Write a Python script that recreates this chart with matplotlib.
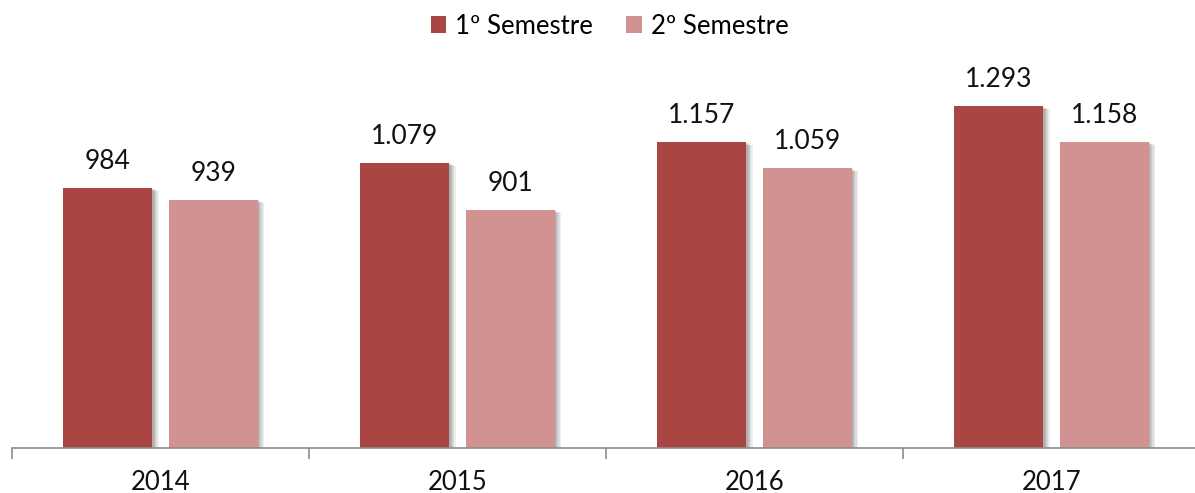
import matplotlib
matplotlib.use("Agg")
import matplotlib.pyplot as plt
import matplotlib.patheffects as pe
import numpy as np

years = ["2014", "2015", "2016", "2017"]
sem1 = [984, 1079, 1157, 1293]
sem2 = [939, 901, 1059, 1158]
labels1 = ["984", "1.079", "1.157", "1.293"]
labels2 = ["939", "901", "1.059", "1.158"]
series_names = ["1º Semestre", "2º Semestre"]

c1 = "#A94644"
c2 = "#D29291"

plt.rcParams['font.family'] = ['Lato', 'DejaVu Sans']

fig = plt.figure(figsize=(11.95, 4.93), dpi=100)
ax = fig.add_axes([12/1195, 45/493, 1188/1195, 370/493])

x = np.arange(len(years))
w = 0.30
off = 0.177

shadow = [pe.SimplePatchShadow(offset=(k*0.9, -k*0.45), shadow_rgbFace="#000000", alpha=0.07) for k in range(1, 6)] + [pe.Normal()]

b1 = ax.bar(x - off, sem1, w, color=c1, label=series_names[0], zorder=3)
b2 = ax.bar(x + off, sem2, w, color=c2, label=series_names[1], zorder=3)
for b in list(b1) + list(b2):
    b.set_path_effects(shadow)

for xi, v, t in zip(x - off, sem1, labels1):
    ax.annotate(t, (xi, v), xytext=(0, 10), textcoords="offset points",
                ha="center", va="bottom", fontsize=19, color="#111111")
for xi, v, t in zip(x + off, sem2, labels2):
    ax.annotate(t, (xi, v), xytext=(0, 10), textcoords="offset points",
                ha="center", va="bottom", fontsize=19, color="#111111")

ax.set_xlim(-0.5, 3.5)
ax.set_ylim(0, 1400)
ax.set_yticks([])
for s in ["top", "right", "left"]:
    ax.spines[s].set_visible(False)
ax.spines["bottom"].set_color("#8C8C8C")
ax.spines["bottom"].set_linewidth(1.2)
ax.spines["bottom"].set_zorder(4)

ax.set_xticks(x)
ax.set_xticklabels(years, fontsize=18.5, color="#111111")
ax.tick_params(axis="x", which="major", length=0, pad=16)
ax.set_xticks(np.arange(-0.5, 4.0, 1.0), minor=True)
ax.tick_params(axis="x", which="minor", length=8, width=1.2, color="#8C8C8C")

leg = fig.legend(handles=[b1, b2], labels=series_names, loc="center",
                 bbox_to_anchor=(0.51, 1 - 26/493), ncol=2, frameon=False,
                 fontsize=18.5, handlelength=0.6, handleheight=0.6,
                 handletextpad=0.35, columnspacing=1.3)
for h in leg.legend_handles:
    h.set_path_effects([])

fig.savefig("out.png", dpi=100)
